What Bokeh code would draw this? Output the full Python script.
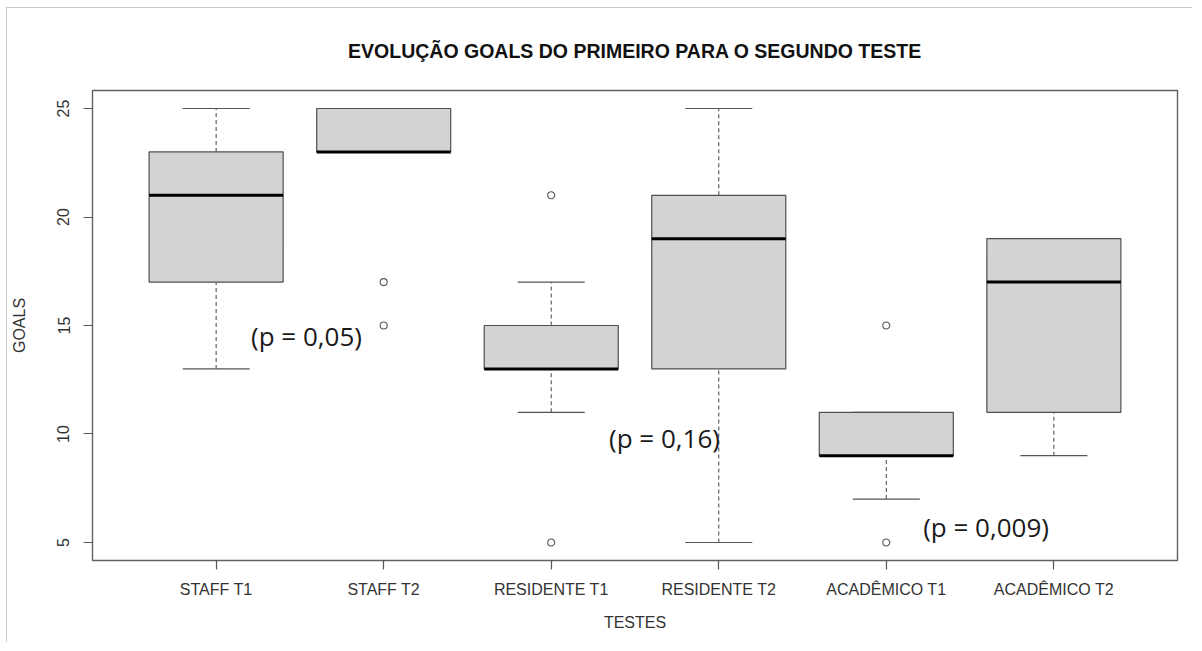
from bokeh.plotting import figure
from bokeh.models import FixedTicker, Range1d, ColumnDataSource
from bokeh.embed import file_html
from bokeh.resources import INLINE
from bokeh.core.properties import value

# ---- data ----
groups = ["STAFF T1", "STAFF T2", "RESIDENTE T1", "RESIDENTE T2", "ACADÊMICO T1", "ACADÊMICO T2"]
lower_whisker = [13, 23, 11, 5, 7, 9]
q1 = [17, 23, 13, 13, 9, 11]
median = [21, 23, 13, 19, 9, 17]
q3 = [23, 25, 15, 21, 11, 19]
upper_whisker = [25, 25, 17, 25, 11, 19]
outlier_group = ["STAFF T2", "STAFF T2", "RESIDENTE T1", "RESIDENTE T1", "ACADÊMICO T1", "ACADÊMICO T1"]
outlier_value = [17, 15, 21, 5, 15, 5]
y_ticks = [5, 10, 15, 20, 25]
p_labels = ["(p = 0,05)", "(p = 0,16)", "(p = 0,009)"]

title_text = "EVOLUÇÃO GOALS DO PRIMEIRO PARA O SEGUNDO TESTE"
x_title = "TESTES"
y_title = "GOALS"

# ---- layout helpers ----
pos = [i + 1 for i in range(len(groups))]
half_box = 0.4
half_cap = 0.2
lbl_x = [1.208, 3.345, 5.22]
lbl_y = [14.51, 9.82, 5.73]

box_src = ColumnDataSource(dict(
    x=pos,
    left=[x - half_box for x in pos],
    right=[x + half_box for x in pos],
    cap_l=[x - half_cap for x in pos],
    cap_r=[x + half_cap for x in pos],
    lw=lower_whisker, q1=q1, med=median, q3=q3, uw=upper_whisker,
))
out_src = ColumnDataSource(dict(
    x=[groups.index(g) + 1 for g in outlier_group],
    y=outlier_value,
))
lbl_src = ColumnDataSource(dict(x=lbl_x, y=lbl_y, t=p_labels))

p = figure(width=1186, height=635,
           x_range=Range1d(0.262, 6.738), y_range=Range1d(4.17, 25.83),
           output_backend="svg", toolbar_location=None,
           min_border_left=82, min_border_right=16,
           min_border_top=81, min_border_bottom=83,
           background_fill_color="white", border_fill_color="white")
p.styles = {"margin-left": "6px", "margin-top": "7px",
            "border-top": "1px solid #c8c8c8", "border-left": "1px solid #c8c8c8"}

p.title.text = title_text
p.title.align = "center"
p.title.text_font = "Liberation Sans"
p.title.text_font_style = "bold"
p.title.text_font_size = "19.5px"
p.title.text_color = "#111111"
p.title.standoff = 58

p.xgrid.visible = False
p.ygrid.visible = False
p.outline_line_color = "#606060"
p.outline_line_width = 1.4

for ax in (p.xaxis[0], p.yaxis[0]):
    ax.axis_line_color = None
    ax.major_tick_line_color = "#555555"
    ax.major_tick_line_width = 1.2
    ax.major_tick_out = 9
    ax.major_tick_in = 0
    ax.minor_tick_line_color = None
    ax.major_label_text_font = "Liberation Sans"
    ax.major_label_text_font_size = "16px"
    ax.major_label_text_color = "#333333"
    ax.axis_label_text_font = "Liberation Sans"
    ax.axis_label_text_font_size = "16px"
    ax.axis_label_text_font_style = "normal"
    ax.axis_label_text_color = "#333333"

p.xaxis.ticker = FixedTicker(ticks=pos)
p.xaxis.major_label_overrides = {x: g for x, g in zip(pos, groups)}
p.xaxis.major_label_standoff = 11
p.xaxis.axis_label = x_title
p.xaxis.axis_label_standoff = 13

p.yaxis.ticker = FixedTicker(ticks=y_ticks)
p.yaxis.major_label_orientation = "vertical"
p.yaxis.major_label_standoff = 14
p.yaxis.axis_label = y_title
p.yaxis.axis_label_standoff = 27

# whiskers (dashed)
p.segment(x0="x", x1="x", y0="q3", y1="uw", source=box_src,
          line_color="#555555", line_width=1.1, line_dash="4 3")
p.segment(x0="x", x1="x", y0="lw", y1="q1", source=box_src,
          line_color="#555555", line_width=1.1, line_dash="4 3")
# caps
p.segment(x0="cap_l", x1="cap_r", y0="uw", y1="uw", source=box_src,
          line_color="#555555", line_width=1.2)
p.segment(x0="cap_l", x1="cap_r", y0="lw", y1="lw", source=box_src,
          line_color="#555555", line_width=1.2)
# boxes
p.quad(left="left", right="right", bottom="q1", top="q3", source=box_src,
       fill_color="#D3D3D3", line_color="#505050", line_width=1.2)
# medians
p.segment(x0="left", x1="right", y0="med", y1="med", source=box_src,
          line_color="#000000", line_width=3)
# outliers
p.scatter(x="x", y="y", source=out_src, marker="circle", size=7,
          fill_color="white", line_color="#555555", line_width=1.1)
# p-value annotations
p.text(x="x", y="y", text="t", source=lbl_src,
       text_font=value("Open Sans"), text_font_size="26px",
       text_color="#1a1a1a", text_align="left", text_baseline="middle")

open("out.html", "w").write(file_html(p, INLINE))
